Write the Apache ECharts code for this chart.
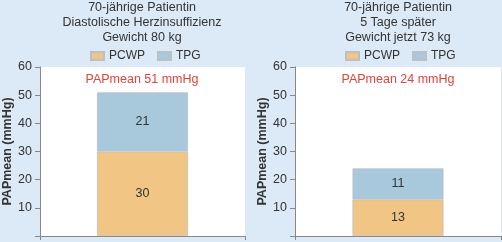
<!DOCTYPE html>
<html>
<head>
<meta charset="utf-8">
<script src="https://cdn.jsdelivr.net/npm/echarts@6/dist/echarts.min.js"></script>
<style>
  html, body { margin: 0; padding: 0; background: #dce9f6; }
  #main { width: 502px; height: 242px; }
</style>
</head>
<body>
<div id="main"></div>
<script>
// Werte je Panel (links: Aufnahme, rechts: 5 Tage später)
var seriesNames = ['PCWP', 'TPG'];
var pcwpValues = [30, 13];
var tpgValues = [21, 11];
var titleLines = [
  ['70-jährige Patientin', 'Diastolische Herzinsuffizienz', 'Gewicht 80 kg'],
  ['70-jährige Patientin', '5 Tage später', 'Gewicht jetzt 73 kg']
];
var yName = 'PAPmean (mmHg)';
var yMin = 0, yMax = 60, yStep = 10;

var font = 'Liberation Sans, Arial, sans-serif';
var colors = ['#f1c583', '#a8c9dc'];
var grids = [
  { left: 40, top: 67, width: 205, bottom: 6 },
  { left: 295, top: 67, width: 206, bottom: 6 }
];
var centers = [142, 398];

var myChart = echarts.init(document.getElementById('main'));

var titles = [];
var legends = [];
var xAxes = [];
var yAxes = [];
var series = [];

grids.forEach(function (g, i) {
  g.show = true;
  g.backgroundColor = '#ffffff';
  g.borderWidth = 0;
  g.containLabel = false;

  titles.push({
    text: titleLines[i].join('\n'),
    left: centers[i], top: 0, padding: 0, textAlign: 'center',
    textStyle: { fontFamily: font, fontSize: 12.5, fontWeight: 'normal', color: '#333', lineHeight: 15 }
  });
  titles.push({
    text: 'PAPmean ' + (pcwpValues[i] + tpgValues[i]) + ' mmHg',
    left: centers[i], top: 73, padding: 0, textAlign: 'center',
    textStyle: { fontFamily: font, fontSize: 12.5, fontWeight: 'normal', color: '#e0443a' }
  });

  legends.push({
    data: seriesNames,
    left: i === 0 ? 90 : 345, top: 50, padding: 0,
    itemWidth: 13, itemHeight: 8, itemGap: 12,
    icon: 'rect',
    textStyle: { fontFamily: font, fontSize: 12, color: '#333' }
  });

  xAxes.push({
    type: 'category', gridIndex: i, data: [''],
    axisLine: { lineStyle: { color: '#888' } },
    axisTick: { show: true, length: 4, lineStyle: { color: '#888' } },
    axisLabel: { show: false }
  });

  yAxes.push({
    type: 'value', gridIndex: i, min: yMin, max: yMax, interval: yStep,
    name: yName, nameLocation: 'middle', nameGap: 26,
    nameTextStyle: { fontFamily: font, fontSize: 12.5, fontWeight: 'bold', color: '#333' },
    axisLine: { show: true, lineStyle: { color: '#888' } },
    axisTick: { show: true, length: 5, lineStyle: { color: '#888' } },
    splitLine: { show: false },
    axisLabel: {
      margin: 8, fontFamily: font, fontSize: 12.5, color: '#333',
      formatter: function (v) { return v === 0 ? '' : v; }
    }
  });

  [pcwpValues, tpgValues].forEach(function (vals, k) {
    series.push({
      name: seriesNames[k], type: 'bar', stack: 'p' + i,
      xAxisIndex: i, yAxisIndex: i,
      barWidth: 91,
      data: [vals[i]],
      itemStyle: { color: colors[k], borderColor: '#bcc0c4', borderWidth: 0.8 },
      label: {
        show: true, position: 'inside',
        fontFamily: font, fontSize: 12.5, color: '#333'
      }
    });
  });
});

var option = {
  backgroundColor: '#dce9f6',
  color: colors,
  animation: false,
  title: titles,
  legend: legends,
  grid: grids,
  xAxis: xAxes,
  yAxis: yAxes,
  series: series
};
myChart.setOption(option);
</script>
</body>
</html>
